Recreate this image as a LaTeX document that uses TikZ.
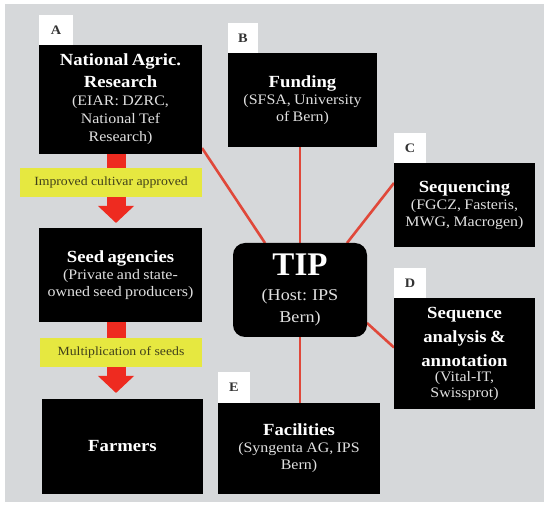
\documentclass[tikz,border=0pt]{standalone}
\usepackage{fontspec}
\setmainfont{Liberation Serif}[FakeStretch=1.1]
\newfontfamily\tipfont{Liberation Serif}
\usetikzlibrary{positioning, calc, arrows.meta, backgrounds}

\definecolor{bggray}{HTML}{D6D8DA}
\definecolor{linkred}{HTML}{E0483A}
\definecolor{flowred}{HTML}{EE2B20}
\definecolor{noteyellow}{HTML}{E6E840}
\definecolor{notetext}{HTML}{40401A}
\definecolor{subtext}{HTML}{E0E0E0}

\newcommand{\boxtitle}[2][22]{{\fontsize{17}{#1}\selectfont\bfseries #2\par}}
\newcommand{\boxsub}[2][17]{{\fontsize{14.5}{#1}\selectfont\color{subtext} #2\par}}

\begin{document}
\begin{tikzpicture}[x=1pt, y=-1pt,
    every node/.style={inner sep=0pt, outer sep=0pt},
    partner/.style={fill=black, text=white, align=center},
    tag/.style={fill=white, text=black!80, minimum width=32pt, minimum height=30pt, anchor=south west, font=\fontsize{13}{13}\selectfont\bfseries},
    note/.style={fill=noteyellow, text=notetext, font=\fontsize{12.5}{12.5}\selectfont},
    link/.style={draw=linkred, line width=2.6pt},
    flow/.style={draw=flowred, line width=19pt},
    flowhead/.style={flow, -{Triangle[length=17pt, width=35pt]}}]

    % Page and margins
    \useasboundingbox (0,0) rectangle (544,510);

    % Left column: from research to farmers
    \node[partner, minimum width=163pt, minimum height=109pt, text width=160pt] (nar) at (120.5,99.5)
        {\boxtitle{National Agric.\\Research}\boxsub[18]{(EIAR: DZRC,\\National Tef\\Research)}};
    \node[note, minimum width=182pt, minimum height=29pt] (approved) at (111,182.5) {Improved cultivar approved};
    \node[partner, minimum width=163pt, minimum height=94pt, text width=160pt] (seed) at (120.5,275)
        {\boxtitle{Seed agencies}\boxsub{(Private and state-\\owned seed producers)}};
    \node[note, minimum width=162pt, minimum height=29pt] (multiply) at (121,352.5) {Multiplication of seeds};
    \node[partner, minimum width=161pt, minimum height=95pt, text width=158pt] (farmers) at (122.5,446.5)
        {\boxtitle{Farmers}};

    % Central node
    \node[partner, rounded corners=12pt, minimum width=134pt, minimum height=94pt, text width=130pt] (tip) at (300,290)
        {{\tipfont\fontsize{33}{33}\selectfont\bfseries TIP\par}\vspace{3pt}{\fontsize{16.5}{22}\selectfont\color{subtext} (Host: IPS\\Bern)\par}};

    % Partners round the centre
    \node[partner, minimum width=149pt, minimum height=94pt, text width=146pt] (funding) at (302.5,100)
        {\boxtitle{Funding}\boxsub{(SFSA, University\\of Bern)}};
    \node[partner, minimum width=141pt, minimum height=84pt, text width=138pt] (seq) at (464.5,205)
        {\boxtitle{Sequencing}\boxsub{(FGCZ, Fasteris,\\MWG, Macrogen)}};
    \node[partner, minimum width=141pt, minimum height=111pt, text width=138pt] (annot) at (464.5,353.5)
        {\boxtitle[24]{Sequence\\analysis \&\\annotation}\boxsub[15.5]{(Vital-IT,\\Swissprot)}};
    \node[partner, minimum width=162pt, minimum height=91pt, text width=158pt] (facil) at (299,448.5)
        {\boxtitle{Facilities}\boxsub{(Syngenta AG, IPS\\Bern)}};

    % Letter tags
    \node[tag, minimum width=34pt] (tagA) at (nar.north west) {A};
    \node[tag, minimum width=30pt] (tagB) at (funding.north west) {B};
    \node[tag] (tagC) at (seq.north west) {C};
    \node[tag] (tagD) at (annot.north west) {D};
    \node[tag, minimum height=31pt] (tagE) at (facil.north west) {E};

    % Red flow arrows
    \coordinate (flowx) at (116,0);
    \draw[flow] (nar.south -| flowx) -- (approved.north -| flowx);
    \draw[flowhead] (approved.south -| flowx) -- ([yshift=5pt]seed.north -| flowx);
    \draw[flow] (seed.south -| flowx) -- (multiply.north -| flowx);
    \draw[flowhead] (multiply.south -| flowx) -- ([yshift=6pt]farmers.north -| flowx);

    \begin{scope}[on background layer]
        \fill[white] (0,0) rectangle (544,510);
        \fill[bggray] (5,4) rectangle (544,502);
        % Links to the centre
        \draw[link] ([yshift=6pt]nar.south east) -- ([xshift=32pt]tip.north west);
        \draw[link] (tip.north) -- (tip.north |- funding.south);
        \draw[link] ([yshift=22pt]seq.west) -- ([xshift=-20pt]tip.north east);
        \draw[link] ([yshift=-33pt]tip.east) -- ([yshift=6pt]annot.west);
        \draw[link] (tip.south) -- (tip.south |- facil.north);
    \end{scope}

\end{tikzpicture}
\end{document}
